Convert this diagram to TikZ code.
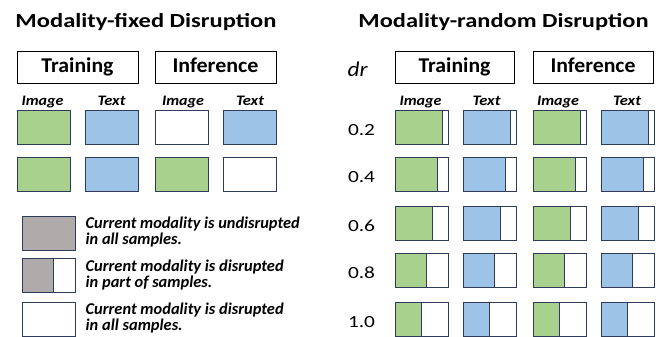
\documentclass[tikz,border=0pt]{standalone}
\usepackage{fontspec}
\setmainfont{Carlito}
\definecolor{imgc}{HTML}{A9D18E}
\definecolor{txtc}{HTML}{9DC3E6}
\definecolor{grayc}{HTML}{AFABAB}
\definecolor{edgec}{HTML}{2F3B5A}
% set a text to a given width, keeping its height
\newcommand\fitw[2]{\resizebox{#1}{\height}{#2}}
% two left-aligned lines set to a given width
\newcommand\twolines[3]{\resizebox{#1}{\height}{\begin{tabular}[t]{@{}l@{}}#2\\#3\end{tabular}}}
\tikzset{
  cellframe/.style={draw=edgec, line width=1pt, minimum width=53pt, minimum height=34pt, inner sep=0pt, anchor=north west},
  headbox/.style={draw=black, line width=1.3pt, minimum height=32pt, inner sep=0pt, anchor=north west},
  headtext/.style={font=\fontsize{21}{22}\selectfont\bfseries, anchor=base, inner sep=0pt},
  title/.style={font=\fontsize{20}{22}\selectfont\bfseries, anchor=base, inner sep=0pt},
  collabel/.style={font=\fontsize{14.5}{16}\selectfont\bfseries\itshape, anchor=base, inner sep=0pt},
  ratelabel/.style={font=\fontsize{17}{20}\selectfont, anchor=base, inner sep=0pt},
  legendtext/.style={font=\fontsize{16.5}{16}\selectfont\bfseries\itshape, anchor=base west, inner sep=0pt},
}
% cell: name, left x, top y, fill colour, disrupted (white) fraction
\newcommand\cellbox[5]{%
  \fill[#4] (#2,#3) rectangle ++({53*(1-#5)},34);
  \node[cellframe] (#1) at (#2,#3) {};
  \draw[edgec, line width=1pt] ({#2+53*(1-#5)},#3) -- ++(0,34);
}
\begin{document}
\begin{tikzpicture}[x=1pt, y=-1pt]
\useasboundingbox (0,0) rectangle (672,337);

% ---------------- modality-fixed disruption ----------------
\node[title] (tfix) at (146,27.7) {\fitw{261pt}{Modality-fixed Disruption}};
\node[headbox, minimum width=121pt] (trfix) at (17,51) {};
\node[headbox, minimum width=121pt] (infix) at (155,51) {};
\node[headtext] (trfixt) at (77.5,72.7) {\fitw{72pt}{Training}};
\node[headtext] (infixt) at (215.5,72.7) {\fitw{86pt}{Inference}};

\node[collabel] (fl1) at (42.5,106) {\fitw{42pt}{Image}};
\node[collabel] (fl2) at (111.5,106) {\fitw{28pt}{Text}};
\node[collabel] (fl3) at (183,106) {\fitw{42pt}{Image}};
\node[collabel] (fl4) at (250,106) {\fitw{28pt}{Text}};

\cellbox{fa1}{17}{110}{imgc}{0}
\cellbox{fa2}{85}{110}{txtc}{0}
\cellbox{fa3}{155}{110}{white}{1}
\cellbox{fa4}{223}{110}{txtc}{0}
\cellbox{fb1}{17}{157}{imgc}{0}
\cellbox{fb2}{85}{157}{txtc}{0}
\cellbox{fb3}{155}{157}{imgc}{0}
\cellbox{fb4}{223}{157}{white}{1}

% legend
\cellbox{lg1}{22}{216}{grayc}{0}
\cellbox{lg2}{22}{258}{grayc}{0.4}
\cellbox{lg3}{22}{302}{white}{1}
\node[legendtext] (lt1) at (85.5,228.5) {\twolines{214pt}{Current modality is undisrupted}{in all samples.}};
\node[legendtext] (lt2) at (85.5,271) {\twolines{198pt}{Current modality is disrupted}{in part of samples.}};
\node[legendtext] (lt3) at (85.5,314) {\twolines{198pt}{Current modality is disrupted}{in all samples.}};

% ---------------- modality-random disruption ----------------
\node[title] (trnd) at (503.5,27.7) {\fitw{290pt}{Modality-random Disruption}};
\node[font=\fontsize{21}{22}\selectfont\itshape, anchor=base, inner sep=0pt] (dr) at (357.5,76.7) {\fitw{20pt}{dr}};
\node[headbox, minimum width=119pt] (trrnd) at (395,51) {};
\node[headbox, minimum width=120pt] (inrnd) at (533,51) {};
\node[headtext] (trrndt) at (454.5,72.7) {\fitw{72pt}{Training}};
\node[headtext] (inrndt) at (593,72.7) {\fitw{85pt}{Inference}};

\node[collabel] (rl1) at (420.5,106) {\fitw{42pt}{Image}};
\node[collabel] (rl2) at (486.5,106) {\fitw{28pt}{Text}};
\node[collabel] (rl3) at (558,106) {\fitw{42pt}{Image}};
\node[collabel] (rl4) at (627,106) {\fitw{28pt}{Text}};

\foreach \r/\y/\f [count=\i] in {0.2/110/0.1, 0.4/157/0.2, 0.6/206/0.3, 0.8/253/0.4, 1.0/302/0.5}{
  \node[ratelabel] (dr\i) at (361.5,\y+25.5) {\fitw{27pt}{\r}};
  \cellbox{ra\i}{395}{\y}{imgc}{\f}
  \cellbox{rb\i}{463}{\y}{txtc}{\f}
  \cellbox{rc\i}{533}{\y}{imgc}{\f}
  \cellbox{rd\i}{601}{\y}{txtc}{\f}
}
\end{tikzpicture}
\end{document}
